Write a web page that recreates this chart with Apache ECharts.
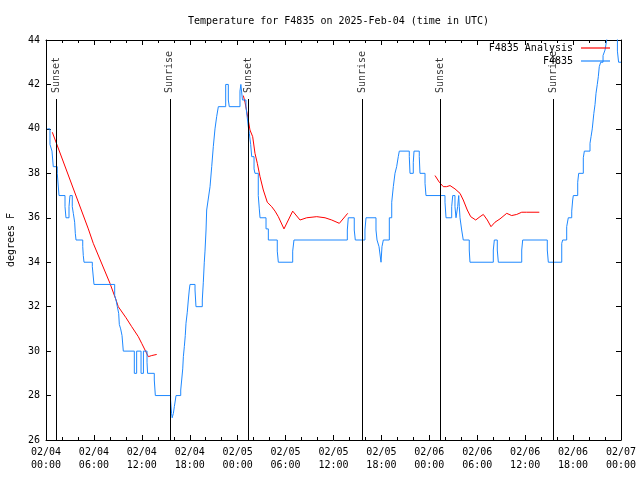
<!DOCTYPE html>
<html>
<head>
<meta charset="utf-8">
<script src="https://cdn.jsdelivr.net/npm/echarts@6/dist/echarts.min.js"></script>
<style>html,body{margin:0;padding:0;background:#fff;}#c{width:640px;height:480px;}</style>
</head>
<body>
<div id="c"></div>
<script>
// hours since 2025-02-04 00:00 UTC
const xTickLabels = ['02/04\n00:00','02/04\n06:00','02/04\n12:00','02/04\n18:00',
  '02/05\n00:00','02/05\n06:00','02/05\n12:00','02/05\n18:00',
  '02/06\n00:00','02/06\n06:00','02/06\n12:00','02/06\n18:00','02/07\n00:00'];

const sunTimes = [1.25, 15.5, 25.35, 39.6, 49.4, 63.5];
const sunNames = ['Sunset','Sunrise','Sunset','Sunrise','Sunset','Sunrise'];

// F4835 observations [hour, degF] (step plot)
const obsF4835 = [[0.16,40],[0.5,39.3],[0.75,39],[0.91,38.3],[1.41,38],[1.63,37],[2.38,36.5],[2.5,36],[2.88,36.5],[3.0,37],[3.29,36.5],[3.42,36.2],[3.59,35.8],[3.67,35.3],[3.76,35],[4.6,34.7],[4.67,34.3],[4.76,34],[5.8,33.8],[6.01,33],[8.6,32.5],[8.77,32.3],[8.93,32],[9.1,31.7],[9.18,31.2],[9.35,31],[9.52,30.7],[9.68,30],[11.06,29],[11.35,30],[11.9,29],[12.2,30],[12.65,29.5],[12.72,29],[13.56,28.7],[13.69,28],[15.6,27.8],[15.72,27.2],[15.8,27],[15.95,27.2],[16.07,27.5],[16.2,27.8],[16.28,28],[16.87,28.25],[16.99,28.7],[17.12,29.2],[17.2,29.75],[17.32,30.2],[17.44,30.7],[17.53,31.25],[17.69,31.75],[17.82,32.3],[17.94,32.75],[18.03,33],[18.66,32.75],[18.78,32],[19.57,32.3],[19.7,33.1],[19.82,34],[19.91,34.5],[20.04,35.45],[20.12,36.35],[20.3,36.8],[20.54,37.4],[20.75,38.3],[20.95,39.2],[21.16,40],[21.37,40.55],[21.58,41],[22.5,42],[22.83,41.3],[22.95,41],[24.29,41.7],[24.4,42],[24.6,41.3],[25.04,41],[25.2,40.5],[25.33,40.1],[25.46,39.8],[25.63,39.3],[25.76,38.75],[26.05,38.2],[26.17,38],[26.58,37],[26.71,36.4],[26.8,36],[27.55,35.5],[27.84,35],[28.96,34.5],[29.09,34],[30.89,34.5],[31.05,35],[37.73,35.45],[37.85,36],[38.6,35.45],[38.73,35],[39.94,35.45],[40.07,36],[41.32,35.45],[41.45,35],[41.7,34.7],[41.95,34],[42.07,34.7],[42.24,35],[42.99,36],[43.29,36.7],[43.49,37.4],[43.7,38],[43.91,38.3],[44.11,38.75],[44.24,39],[45.49,38.75],[45.58,38],[45.99,38.5],[46.08,39],[46.74,38.75],[46.83,38],[47.46,37.55],[47.58,37],[49.96,36.7],[50.09,36],[50.8,36.5],[50.93,37],[51.21,36.5],[51.34,36],[51.55,36.5],[51.68,37],[51.75,36.5],[51.84,36],[52.05,35.45],[52.25,35],[53.0,34.55],[53.09,34],[56.01,34.55],[56.14,35],[56.51,34.55],[56.64,34],[59.57,34.55],[59.69,35],[62.77,34.55],[62.9,34],[64.58,34.85],[64.7,35],[65.2,35.6],[65.4,36],[65.83,36.3],[65.95,36.8],[66.03,37],[66.58,37.6],[66.7,38],[67.28,38.7],[67.41,39],[68.12,39.35],[68.25,39.65],[68.4,40],[68.6,40.7],[68.75,41.1],[68.87,41.6],[69.03,42],[69.16,42.35],[69.28,42.8],[69.46,43],[69.75,43.3],[70.0,43.55],[70.21,44],[70.38,44.5],[71.55,43.5],[71.7,43],[72,43]];

// F4835 Analysis [hour, degF]; '-' marks gaps
const anaF4835 = [[0.79,39.85],[5.3,35.5],[5.92,34.85],[8.01,33.05],[8.77,32.3],[9.05,32.0],[10.02,31.5],[10.73,31.1],[11.56,30.65],[11.98,30.35],[12.4,30.05],[12.81,29.75],[13.24,29.8],[13.86,29.85],
  [18,'-'],
  [24.71,41.5],[24.92,41.2],[25.33,40.4],[25.54,39.95],[25.88,39.65],[26.17,38.9],[26.46,38.45],[26.8,37.85],[27.21,37.25],[27.71,36.7],[28.26,36.5],[28.68,36.3],[29.09,36.05],[29.8,35.5],[30.89,36.3],[31.81,35.9],[32.64,36.0],[33.9,36.05],[34.94,36.0],[35.78,35.9],[36.73,35.75],[37.78,36.2],
  [42,'-'],
  [48.71,37.9],[49.25,37.6],[49.75,37.4],[50.17,37.4],[50.59,37.45],[51.21,37.3],[51.84,37.1],[52.25,36.8],[52.75,36.35],[53.18,36.05],[53.81,35.9],[54.35,36.05],[54.76,36.15],[55.26,35.9],[55.72,35.6],[56.22,35.8],[56.85,35.95],[57.69,36.2],[58.31,36.1],[58.94,36.15],[59.57,36.25],[60.19,36.25],[61.77,36.25]];

const FONT = 'DejaVu Sans Mono';
const yMin = 26, yMax = 44;
const lineTopFrac = 0.8525, labelBaseFrac = 0.8675;
const lineTop = yMin + (yMax - yMin) * lineTopFrac;
const labelBase = yMin + (yMax - yMin) * labelBaseFrac;

const GRID = {left: 46, right: 19, top: 40, bottom: 40};

const chart = echarts.init(document.getElementById('c'), null, {renderer: 'canvas'});

const xCommon = {
  type: 'value', min: 0, max: 72, interval: 6,
  axisLine: {show: true, onZero: false, lineStyle: {color: '#000', width: 1}},
  axisTick: {show: true, inside: true, length: 5, lineStyle: {color: '#000'}},
  minorTick: {show: true, splitNumber: 3, length: 3, lineStyle: {color: '#000'}},
  splitLine: {show: false}
};
const yCommon = {
  type: 'value', min: yMin, max: yMax, interval: 2,
  axisLine: {show: true, onZero: false, lineStyle: {color: '#000', width: 1}},
  axisTick: {show: true, inside: true, length: 5, lineStyle: {color: '#000'}},
  splitLine: {show: false}
};

const legendCommon = {right: 30, padding: 0, align: 'right', icon: 'rect', itemWidth: 29, itemHeight: 1.2, itemGap: 0,
  textStyle: {fontFamily: FONT, fontSize: 10, color: '#000', padding: [0, 3, 0, 0]}};

chart.setOption({
  animation: false,
  backgroundColor: '#fff',
  textStyle: {fontFamily: FONT},
  title: {
    text: 'Temperature for F4835 on 2025-Feb-04 (time in UTC)',
    left: GRID.left + (640 - GRID.left - GRID.right) / 2, textAlign: 'center', top: 11,
    textStyle: {fontFamily: FONT, fontSize: 10, fontWeight: 'normal', color: '#000'}
  },
  legend: [
    Object.assign({data: ['F4835 Analysis'], top: 43}, legendCommon),
    Object.assign({data: ['F4835'], top: 56}, legendCommon)
  ],
  grid: Object.assign({containLabel: false, outerBoundsMode: 'none'}, GRID),
  xAxis: [
    Object.assign({}, xCommon, {
      position: 'bottom',
      axisLabel: {show: true, margin: 6, color: '#000', fontFamily: FONT, fontSize: 10, lineHeight: 13,
        formatter: function (v) { return xTickLabels[Math.round(v / 6)] || ''; }}
    }),
    Object.assign({}, xCommon, {position: 'top', axisLabel: {show: false}})
  ],
  yAxis: [
    Object.assign({}, yCommon, {
      position: 'left',
      name: 'degrees F', nameLocation: 'middle', nameRotate: 90, nameGap: 30,
      nameTextStyle: {fontFamily: FONT, fontSize: 10, color: '#000'},
      axisLabel: {show: true, margin: 6, color: '#000', fontFamily: FONT, fontSize: 10}
    }),
    Object.assign({}, yCommon, {position: 'right', axisLabel: {show: false}})
  ],
  series: [
    {
      name: 'F4835 Analysis', type: 'line', data: anaF4835, showSymbol: false, symbol: 'none',
      connectNulls: false, clip: true,
      lineStyle: {color: '#ff0000', width: 1}, itemStyle: {color: '#ff0000'}, z: 2
    },
    {
      name: 'F4835', type: 'line', data: obsF4835, step: 'end', showSymbol: false, symbol: 'none',
      clip: true,
      lineStyle: {color: '#1e88ff', width: 1}, itemStyle: {color: '#1e88ff'}, z: 3
    },
    {
      name: 'sun', type: 'scatter', symbolSize: 0, z: 4,
      data: sunTimes.map((t, i) => ({name: sunNames[i], value: [t, labelBase]})),
      label: {show: true, position: [0, 0], rotate: 90, align: 'left', verticalAlign: 'middle',
        formatter: '{b}', color: '#000', fontFamily: FONT, fontSize: 10},
      markLine: {
        silent: true, symbol: ['none', 'none'], animation: false,
        lineStyle: {color: '#000', width: 1, type: 'solid'},
        label: {show: false},
        data: sunTimes.map(t => [{coord: [t, yMin]}, {coord: [t, lineTop]}])
      }
    }
  ]
});
</script>
</body>
</html>
